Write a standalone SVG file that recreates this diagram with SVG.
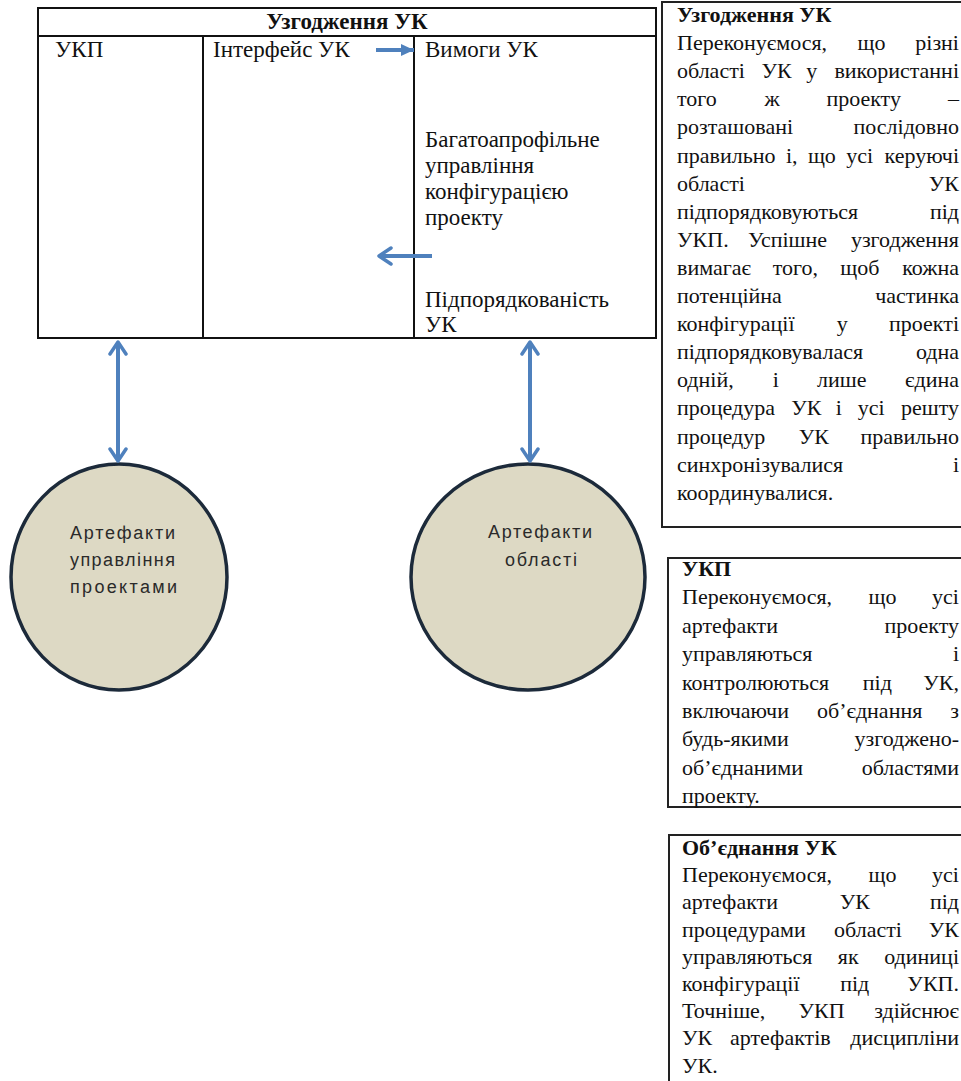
<svg xmlns="http://www.w3.org/2000/svg" width="961" height="1081" viewBox="0 0 961 1081">
<style>
.t{font-family:"Liberation Serif","Times New Roman",serif;font-size:23px;fill:#111}
.n{font-family:"Liberation Serif","Times New Roman",serif;font-size:22px;fill:#111}
.b{font-weight:bold}
.e{text-anchor:end}
.m{text-anchor:middle}
.s{font-family:"Liberation Sans",Arial,sans-serif;font-size:18px;fill:#2a2a2a}
.ln{stroke:#111;stroke-width:2;fill:none}
.bx{stroke:#222;stroke-width:2;fill:#fff}
.ov{fill:#ddd9c4;stroke:#1c2a3a;stroke-width:3.5}
.ar{stroke:#4f81bd;stroke-width:4;fill:none}
</style>
<defs>
<marker id="chev" viewBox="0 0 16 20" refX="14" refY="10" markerWidth="16" markerHeight="20" markerUnits="userSpaceOnUse" orient="auto-start-reverse">
<path d="M2,2 L14,10 L2,18" fill="none" stroke="#4f81bd" stroke-width="3.5" stroke-linecap="round" stroke-linejoin="round"/>
</marker>
<marker id="tri" viewBox="0 0 14 14" refX="13" refY="7" markerWidth="14" markerHeight="14" markerUnits="userSpaceOnUse" orient="auto">
<path d="M0,1 L13,7 L0,13 Z" fill="#4f81bd"/>
</marker>
</defs>
<rect width="961" height="1081" fill="#fff"/>

<g id="table">
<rect class="ln" x="38" y="8" width="618" height="330"/>
<line class="ln" x1="38" y1="36" x2="656" y2="36"/>
<line class="ln" x1="203" y1="36" x2="203" y2="338"/>
<line class="ln" x1="414" y1="36" x2="414" y2="338"/>
<text class="t b m" x="347" y="29">Узгодження УК</text>
</g>
<g id="cell-ukp">
<text class="t" x="55" y="57">УКП</text>
</g>
<g id="cell-interface">
<text class="t" x="213" y="57">Інтерфейс УК</text>
</g>
<g id="cell-requirements">
<text class="t" x="425" y="57">Вимоги УК</text>
<text class="t" x="425" y="147">Багатоапрофільне</text>
<text class="t" x="425" y="173">управління</text>
<text class="t" x="425" y="199">конфігурацією</text>
<text class="t" x="425" y="225">проекту</text>
<text class="t" x="425" y="307">Підпорядкованість</text>
<text class="t" x="425" y="332">УК</text>
</g>

<g id="note-alignment">
<rect class="bx" x="662" y="2" width="310" height="525"/>
<text class="n b" x="677" y="22">Узгодження УК</text>
<text class="n" x="677" y="50.1">Переконуємося,</text><text class="n" x="857.5" y="50.1">що</text><text class="n e" x="959" y="50.1">різні</text>
<text class="n" x="677" y="78.2">області</text><text class="n" x="761.4" y="78.2">УК</text><text class="n" x="806.3" y="78.2">у</text><text class="n e" x="959" y="78.2">використанні</text>
<text class="n" x="677" y="106.3">того</text><text class="n" x="764.4" y="106.3">ж</text><text class="n" x="826.4" y="106.3">проекту</text><text class="n e" x="959" y="106.3">–</text>
<text class="n" x="677" y="134.4">розташовані</text><text class="n e" x="959" y="134.4">послідовно</text>
<text class="n" x="677" y="162.5">правильно</text><text class="n" x="785.9" y="162.5">і,</text><text class="n" x="807.9" y="162.5">що</text><text class="n" x="846.3" y="162.5">усі</text><text class="n e" x="959" y="162.5">керуючі</text>
<text class="n" x="677" y="190.6">області</text><text class="n e" x="959" y="190.6">УК</text>
<text class="n" x="677" y="218.7">підпорядковуються</text><text class="n e" x="959" y="218.7">під</text>
<text class="n" x="677" y="246.8">УКП.</text><text class="n" x="748" y="246.8">Успішне</text><text class="n e" x="959" y="246.8">узгодження</text>
<text class="n" x="677" y="274.9">вимагає</text><text class="n" x="772.7" y="274.9">того,</text><text class="n" x="840.2" y="274.9">щоб</text><text class="n e" x="959" y="274.9">кожна</text>
<text class="n" x="677" y="303">потенційна</text><text class="n e" x="959" y="303">частинка</text>
<text class="n" x="677" y="331.1">конфігурації</text><text class="n" x="836.8" y="331.1">у</text><text class="n e" x="959" y="331.1">проекті</text>
<text class="n" x="677" y="359.2">підпорядковувалася</text><text class="n e" x="959" y="359.2">одна</text>
<text class="n" x="677" y="387.3">одній,</text><text class="n" x="772.7" y="387.3">і</text><text class="n" x="817.1" y="387.3">лише</text><text class="n e" x="959" y="387.3">єдина</text>
<text class="n" x="677" y="415.4">процедура</text><text class="n" x="791.2" y="415.4">УК</text><text class="n" x="835.8" y="415.4">і</text><text class="n" x="857.8" y="415.4">усі</text><text class="n e" x="959" y="415.4">решту</text>
<text class="n" x="677" y="443.5">процедур</text><text class="n" x="798.7" y="443.5">УК</text><text class="n e" x="959" y="443.5">правильно</text>
<text class="n" x="677" y="471.6">синхронізувалися</text><text class="n e" x="959" y="471.6">і</text>
<text class="n" x="677" y="499.7">координувалися.</text>
</g>

<g id="note-ukp">
<rect class="bx" x="668" y="558" width="310" height="249"/>
<text class="n b" x="682" y="576">УКП</text>
<text class="n" x="682" y="604.4">Переконуємося,</text><text class="n" x="868.55" y="604.4">що</text><text class="n e" x="959" y="604.4">усі</text>
<text class="n" x="682" y="632.8">артефакти</text><text class="n e" x="959" y="632.8">проекту</text>
<text class="n" x="682" y="661.2">управляються</text><text class="n e" x="959" y="661.2">і</text>
<text class="n" x="682" y="689.6">контролюються</text><text class="n" x="862.75" y="689.6">під</text><text class="n e" x="959" y="689.6">УК,</text>
<text class="n" x="682" y="718">включаючи</text><text class="n" x="816.95" y="718">об’єднання</text><text class="n e" x="959" y="718">з</text>
<text class="n" x="682" y="746.4">будь-якими</text><text class="n e" x="959" y="746.4">узгоджено-</text>
<text class="n" x="682" y="774.8">об’єднаними</text><text class="n e" x="959" y="774.8">областями</text>
<text class="n" x="682" y="803.2">проекту.</text>
</g>

<g id="note-merge">
<rect class="bx" x="669" y="835" width="310" height="260"/>
<text class="n b" x="682" y="855">Об’єднання УК</text>
<text class="n" x="682" y="882.2">Переконуємося,</text><text class="n" x="868.55" y="882.2">що</text><text class="n e" x="959" y="882.2">усі</text>
<text class="n" x="682" y="909.4">артефакти</text><text class="n" x="839.75" y="909.4">УК</text><text class="n e" x="959" y="909.4">під</text>
<text class="n" x="682" y="936.6">процедурами</text><text class="n" x="834.05" y="936.6">області</text><text class="n e" x="959" y="936.6">УК</text>
<text class="n" x="682" y="963.8">управляються</text><text class="n" x="837.85" y="963.8">як</text><text class="n e" x="959" y="963.8">одиниці</text>
<text class="n" x="682" y="991">конфігурації</text><text class="n" x="840.2" y="991">під</text><text class="n e" x="959" y="991">УКП.</text>
<text class="n" x="682" y="1018.2">Точніше,</text><text class="n" x="798.55" y="1018.2">УКП</text><text class="n e" x="959" y="1018.2">здійснює</text>
<text class="n" x="682" y="1045.4">УК</text><text class="n" x="730" y="1045.4">артефактів</text><text class="n e" x="959" y="1045.4">дисципліни</text>
<text class="n" x="682" y="1072.6">УК.</text>
</g>

<g id="pm-artifacts">
<ellipse class="ov" cx="119" cy="577" rx="108" ry="113"/>
<text class="s" x="70" y="539" textLength="105" lengthAdjust="spacing">Артефакти</text>
<text class="s" x="70" y="566" textLength="105" lengthAdjust="spacing">управління</text>
<text class="s" x="70" y="593" textLength="107" lengthAdjust="spacing">проектами</text>
</g>

<g id="domain-artifacts">
<ellipse class="ov" cx="528" cy="577" rx="117" ry="113"/>
<text class="s" x="488" y="538" textLength="104" lengthAdjust="spacing">Артефакти</text>
<text class="s" x="505" y="566" textLength="72" lengthAdjust="spacing">області</text>
</g>

<g id="connectors">
<line class="ar" x1="118" y1="342" x2="118" y2="461" marker-start="url(#chev)" marker-end="url(#chev)"/>
<line class="ar" x1="530" y1="342" x2="530" y2="461" marker-start="url(#chev)" marker-end="url(#chev)"/>
<line class="ar" x1="376" y1="50" x2="414" y2="50" marker-end="url(#tri)"/>
<line class="ar" x1="432" y1="256" x2="379" y2="256" marker-end="url(#chev)"/>
</g>
</svg>
